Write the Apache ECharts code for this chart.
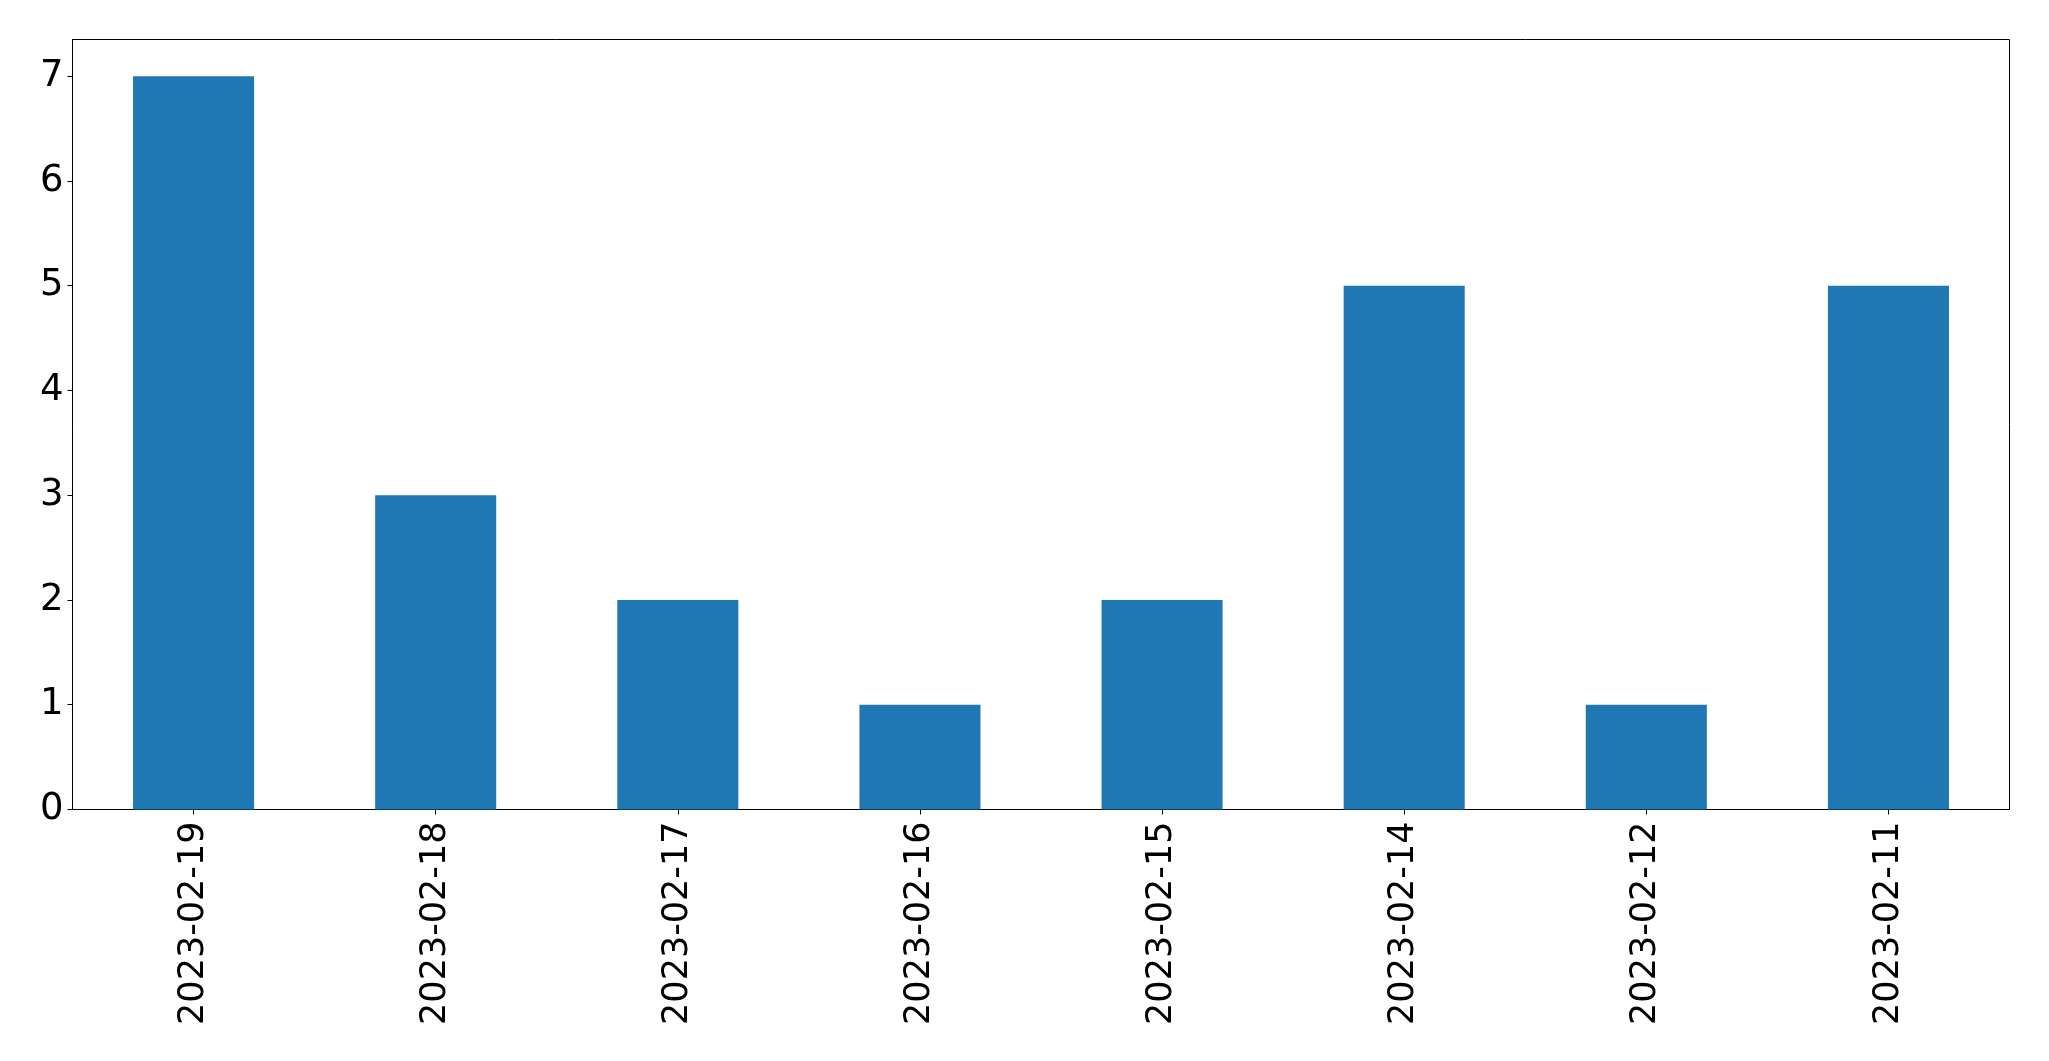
<!DOCTYPE html>
<html>
<head>
<meta charset="utf-8">
<script src="https://cdn.jsdelivr.net/npm/echarts@6/dist/echarts.min.js"></script>
<style>
html,body{margin:0;padding:0;background:#fff;}
#chart{width:2049px;height:1061px;}
</style>
</head>
<body>
<div id="chart"></div>
<script>
const categories = ['2023-02-19','2023-02-18','2023-02-17','2023-02-16','2023-02-15','2023-02-14','2023-02-12','2023-02-11'];
const counts = [7, 3, 2, 1, 2, 5, 1, 5];
const yTicks = [0, 1, 2, 3, 4, 5, 6, 7];

const chart = echarts.init(document.getElementById('chart'), null, {renderer: 'canvas'});
const font = 'DejaVu Sans';
chart.setOption({
  animation: false,
  backgroundColor: '#ffffff',
  grid: {
    left: 72.5, right: 39.5, top: 39.5, bottom: 251.5,
    show: true, borderColor: '#000', borderWidth: 1, backgroundColor: 'transparent',
    containLabel: false
  },
  xAxis: {
    type: 'category',
    data: categories,
    boundaryGap: true,
    axisLine: {show: true, lineStyle: {color: '#000', width: 1}},
    axisTick: {show: true, alignWithLabel: true, length: 5, lineStyle: {color: '#000', width: 1}},
    axisLabel: {rotate: 90, fontFamily: font, fontSize: 35, color: '#000', margin: 12, interval: 0},
    splitLine: {show: false}
  },
  yAxis: {
    type: 'value',
    min: 0,
    max: 7.35,
    axisLine: {show: true, lineStyle: {color: '#000', width: 1}},
    axisTick: {show: true, length: 5, lineStyle: {color: '#000', width: 1}, customValues: yTicks},
    axisLabel: {fontFamily: font, fontSize: 37, color: '#000', margin: 9, padding: [5, 0, 0, 0], customValues: yTicks},
    splitLine: {show: false}
  },
  series: [{
    type: 'bar',
    data: counts,
    barWidth: '50%',
    itemStyle: {color: '#1f77b4'}
  }]
});
</script>
</body>
</html>
